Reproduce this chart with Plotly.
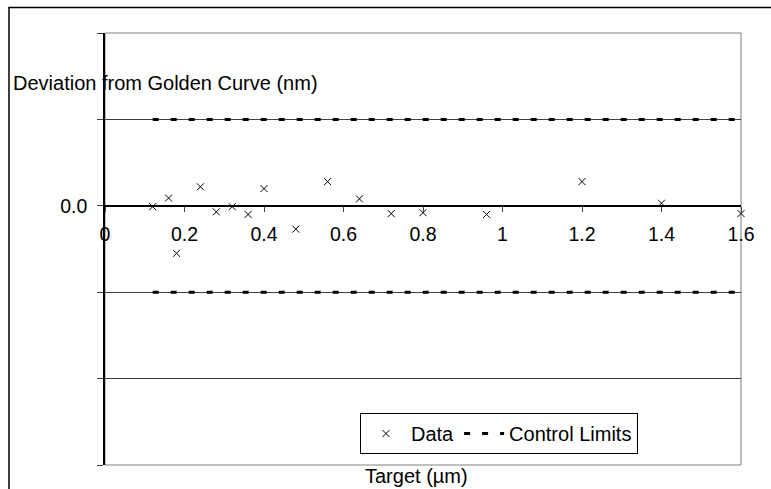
import plotly.graph_objects as go

# ---- data ----
target_um = [0.12, 0.16, 0.18, 0.24, 0.28, 0.32, 0.36, 0.40, 0.48, 0.56,
             0.64, 0.72, 0.80, 0.96, 1.20, 1.40, 1.60]
deviation_nm = [-0.01, 0.09, -0.55, 0.22, -0.07, -0.01, -0.10, 0.20, -0.27, 0.28,
                0.08, -0.09, -0.08, -0.10, 0.28, 0.03, -0.09]
limit_x = [0.12, 1.60]
upper_limit = [1.0, 1.0]
lower_limit = [-1.0, -1.0]
x_ticks = [0, 0.2, 0.4, 0.6, 0.8, 1, 1.2, 1.4, 1.6]
x_tick_labels = ["0", "0.2", "0.4", "0.6", "0.8", "1", "1.2", "1.4", "1.6"]
y_ticks = [-3, -2, -1, 0, 1, 2]
y_tick_labels = ["", "", "", "0.0", "", ""]

FONT = "Liberation Sans, Arial, sans-serif"
FS = 20
TFS = 19.5

W, H = 771, 489
L, R, T, B = 105, 30, 33, 24
pw, ph = W - L - R, H - T - B


def px2paper(px, py):
    return (px - L) / pw, (H - B - py) / ph


fig = go.Figure()
fig.add_trace(go.Scatter(
    x=target_um, y=deviation_nm, mode="markers", name="Data",
    marker=dict(symbol="x-thin", size=7, color="black",
                line=dict(color="black", width=1)),
    cliponaxis=False,
))
fig.add_trace(go.Scatter(
    x=limit_x + [None] + limit_x, y=upper_limit + [None] + lower_limit,
    mode="lines", name="Control Limits",
    line=dict(color="black", width=3, dash="6px,12px"),
))

ax_pos = (0 - (-3)) / 5.0
fx0, fy1 = px2paper(9, 7.5)
fx1, fy0 = px2paper(830, 530)
ax_x, ax_y = px2paper(11, 83)
tx, ty = px2paper(416, 476)
lx, ly = px2paper(360, 413)

fig.update_layout(
    width=W, height=H,
    margin=dict(l=L, r=R, t=T, b=B),
    paper_bgcolor="white", plot_bgcolor="white",
    font=dict(family=FONT, size=FS, color="black"),
    showlegend=True,
    legend=dict(orientation="h", x=lx, y=ly, xanchor="left", yanchor="top",
                bgcolor="white", bordercolor="black", borderwidth=1,
                font=dict(family=FONT, size=FS, color="black"),
                itemwidth=40),
    xaxis=dict(range=[0, 1.6], tickvals=x_ticks, ticktext=x_tick_labels,
               showgrid=False, zeroline=False, showline=True, linecolor="black",
               linewidth=1.5, ticks="outside", ticklen=5, tickcolor="#404040",
               anchor="free", position=ax_pos, ticklabelstandoff=6,
               tickfont=dict(family=FONT, size=TFS, color="black")),
    yaxis=dict(range=[-3, 2], tickvals=y_ticks, ticktext=y_tick_labels,
               showgrid=True, gridcolor="#404040", gridwidth=1,
               zeroline=False, showline=True, linecolor="black", linewidth=1.5,
               ticks="outside", ticklen=6, tickcolor="#404040",
               ticklabelstandoff=6,
               tickfont=dict(family=FONT, size=TFS, color="black")),
    shapes=[
        dict(type="rect", xref="paper", yref="paper", x0=0, x1=1, y0=0, y1=1,
             line=dict(color="#808080", width=1), layer="below"),
        dict(type="rect", xref="paper", yref="paper", x0=fx0, x1=fx1, y0=fy0, y1=fy1,
             line=dict(color="black", width=1.5), layer="below"),
    ],
    annotations=[
        dict(text="Deviation from Golden Curve (nm)", xref="paper", yref="paper",
             x=ax_x, y=ax_y, xanchor="left", yanchor="middle", showarrow=False,
             font=dict(family=FONT, size=FS, color="black")),
        dict(text="Target (µm)", xref="paper", yref="paper",
             x=tx, y=ty, xanchor="center", yanchor="middle", showarrow=False,
             font=dict(family=FONT, size=FS, color="black")),
    ],
)

fig.write_html("out.html",
               config={"displayModeBar": False},
               post_script="document.body.style.margin='0';document.body.style.overflow='hidden';")
